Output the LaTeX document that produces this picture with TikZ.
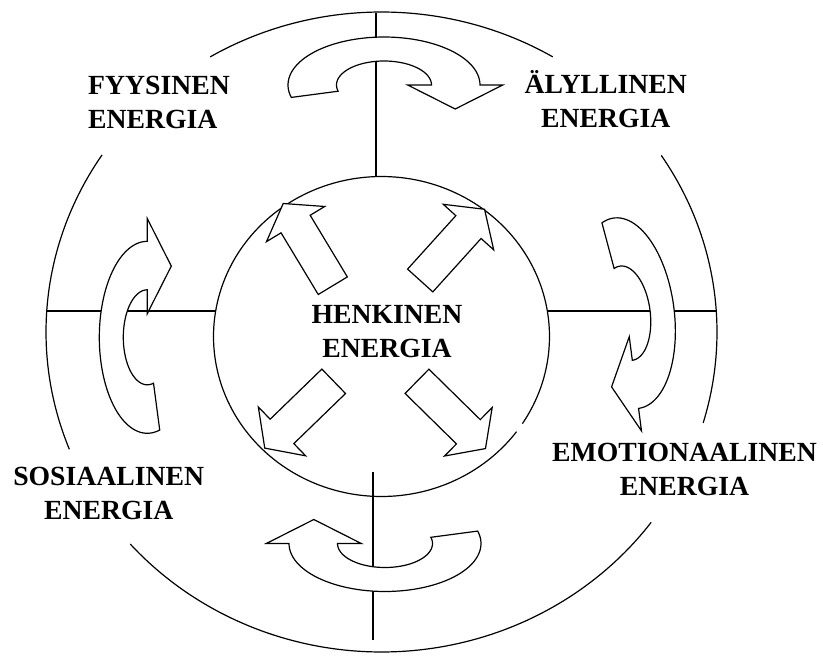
\documentclass[tikz,border=0pt]{standalone}
\usepackage{fontspec}
\setmainfont{Liberation Serif}
\newcommand\ringarc[2]{\draw[ln] plot[domain=#1:#2,samples=90] ({381.5+335.5*cos(\x)},{332+320*sin(\x)});}
\newcommand\curvarrow[3]{%
  \begin{scope}[shift={(#1,#2)},rotate=#3]
    \draw[shp] plot[domain=165:360,samples=60] ({96*cos(\x)},{48*sin(\x)})
      -- (118.7,0) -- (71.2,24) -- (23.7,0) -- (47.5,0)
      -- plot[domain=360:165,samples=60] ({47.5*cos(\x)},{24*sin(\x)}) -- cycle;
  \end{scope}}
\newcommand\blockarrow[3]{%
  \begin{scope}[shift={(#1,#2)},rotate=#3]
    \draw[shp] (0,-17) -- (72,-17) -- (72,-34) -- (96,0) -- (72,34) -- (72,17) -- (0,17) -- cycle;
  \end{scope}}
\begin{document}
\begin{tikzpicture}[x=1pt,y=-1pt,
  ln/.style={draw=black,line width=1.2pt},
  shp/.style={draw=black,fill=white,line width=1.2pt,line join=miter},
  lbl/.style={inner sep=0pt,font=\bfseries\fontsize{27.7}{34}\selectfont}]
\useasboundingbox (0,0) rectangle (823,656);
\fill[white] (0,0) rectangle (823,656);

% outer ring (broken at the labels)
\ringarc{-120.7}{-59.3}
\ringarc{158.5}{213.6}
\ringarc{36.5}{138.5}
\ringarc{-33.5}{16.5}

% cross lines
\coordinate (hl1) at (46.7,311);
\coordinate (hl2) at (214.5,311);
\coordinate (hr1) at (547.5,311);
\coordinate (hr2) at (716.3,311);
\coordinate (vt1) at (376,12.7);
\coordinate (vt2) at (376,176.6);
\coordinate (vb1) at (373,472);
\coordinate (vb2) at (373,640);
\draw[ln] (hl1) -- (hl2);
\draw[ln] (hr1) -- (hr2);
\draw[ln] (vt1) -- (vt2);
\draw[ln] (vb1) -- (vb2);

% inner circle (small gap at lower right)
\draw[ln] plot[domain=36.5:393,samples=200] ({381.5+168*cos(\x)},{336.5+160*sin(\x)});

% curved arrows
\curvarrow{384}{85}{0}
\curvarrow{147.3}{337.3}{90}
\curvarrow{385}{543.5}{180}
\curvarrow{626.2}{313.2}{-82.6}

% straight block arrows
\blockarrow{332.8}{285.7}{121.1}
\blockarrow{420.2}{280.5}{47.9}
\blockarrow{333.7}{381.3}{224.1}
\blockarrow{417}{381.3}{-44.5}

% labels
\node[lbl,anchor=base west] (fys) at (88,94) {\begin{tabular}[t]{@{}l@{}}FYYSINEN\\ENERGIA\end{tabular}};
\node[lbl,anchor=base] (aly) at (605.7,93) {\begin{tabular}[t]{@{}c@{}}ÄLYLLINEN\\ENERGIA\end{tabular}};
\node[lbl,anchor=base] (sos) at (108.7,485) {\begin{tabular}[t]{@{}c@{}}SOSIAALINEN\\ENERGIA\end{tabular}};
\node[lbl,anchor=base] (emo) at (684.5,461) {\begin{tabular}[t]{@{}c@{}}EMOTIONAALINEN\\ENERGIA\end{tabular}};
\node[lbl,anchor=base] (hen) at (387,323) {\begin{tabular}[t]{@{}c@{}}HENKINEN\\ENERGIA\end{tabular}};
\end{tikzpicture}
\end{document}
